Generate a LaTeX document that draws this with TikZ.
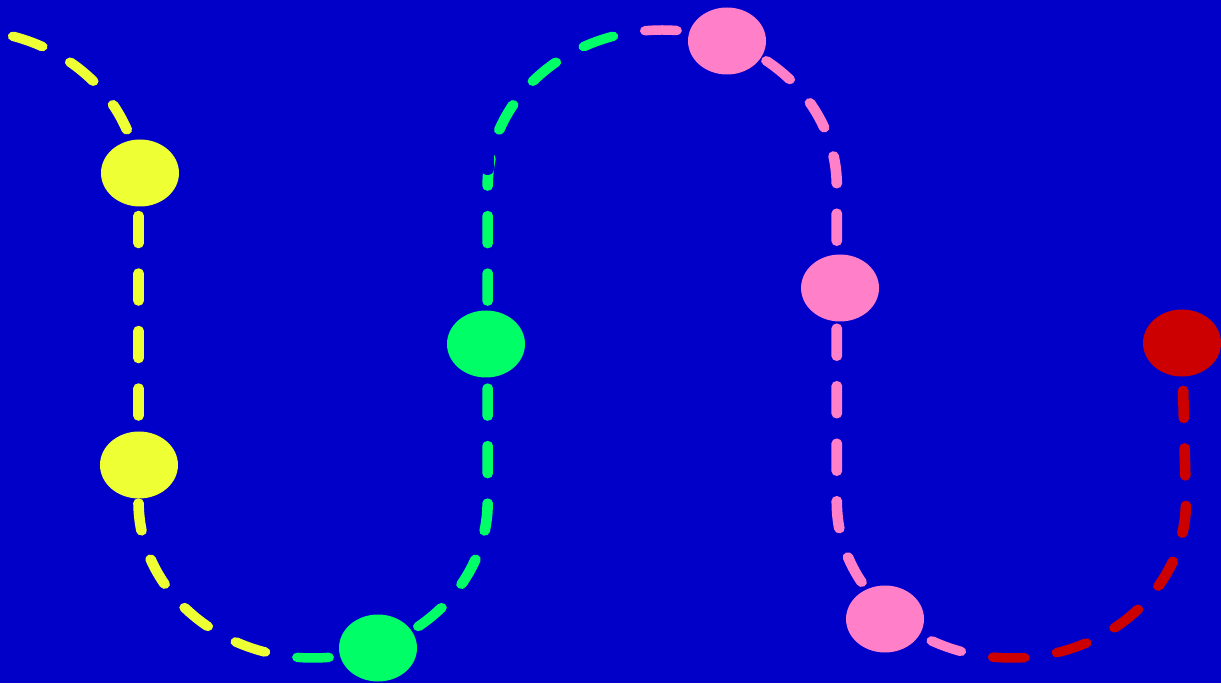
\documentclass[tikz,border=0pt]{standalone}
\usetikzlibrary{shapes.geometric}
\definecolor{bgblue}{RGB}{0,0,200}
\definecolor{ylw}{RGB}{238,255,51}
\definecolor{grn}{RGB}{0,255,102}
\definecolor{pnk}{RGB}{255,128,200}
\definecolor{rd}{RGB}{204,0,0}
\tikzset{
  trail/.style={line width=9.5pt, line cap=round, dash pattern=on 28pt off 29.5pt, dash phase=0pt},
  stop/.style={ellipse, minimum width=69.7pt, minimum height=67pt, inner sep=0pt, fill=#1},
}
\newcommand\trailpart[3]{%
  \begin{scope}
    \clip (#1,-20) rectangle (#2,720);
    \draw[trail,#3] (s0) arc[start angle=73.63,end angle=0,radius=156] -- (v1)
      arc[start angle=180,end angle=360,radius=156] -- (v2)
      arc[start angle=180,end angle=0,radius=156] -- (v3)
      arc[start angle=180,end angle=360,radius=156] -- (rn.center);
  \end{scope}}
\begin{document}
\begin{tikzpicture}[x=1pt,y=1pt]
\fill[bgblue] (0,0) rectangle (1221,683);
\useasboundingbox (0,0) rectangle (1221,683);
\begin{scope}[transform canvas={xscale=1.119}]
  \coordinate (s0) at (11.77,646.67);
  \coordinate (v1) at (123.8,181);
  \coordinate (v2) at (435.8,497);
  \coordinate (v3) at (747.8,181);
  \coordinate (rn) at (1056.3,340);
  \trailpart{-30}{252.9}{ylw}
  \trailpart{252.9}{563}{grn}
  \trailpart{563}{874}{pnk}
  \trailpart{874}{1200}{rd}
  \coordinate (m1) at (435.8,533);
  \coordinate (m2) at (435.8,514);
  \draw[bgblue, line width=12pt, line cap=round] (m1) -- (m2);
  \node[stop=ylw] (y1) at (125.1,510) {};
  \node[stop=ylw] (y2) at (124.2,218) {};
  \node[stop=grn] (g1) at (337.8,35) {};
  \node[stop=grn] (g2) at (434.3,339) {};
  \node[stop=pnk] (p1) at (649.7,642) {};
  \node[stop=pnk] (p2) at (750.7,395) {};
  \node[stop=pnk] (p3) at (790.9,64) {};
  \node[stop=rd] (r1) at (1056.3,340) {};
\end{scope}
\end{tikzpicture}
\end{document}
